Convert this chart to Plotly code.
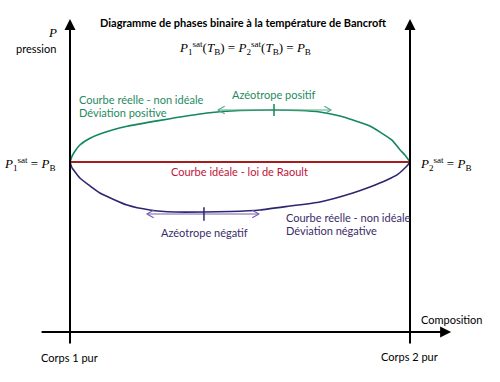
import plotly.graph_objects as go

# Composition (mole fraction of component 2) and reduced pressure P/P_B
comp_pos = [0.0, 0.006, 0.015, 0.029, 0.059, 0.088, 0.168, 0.265, 0.403, 0.500, 0.600,
            0.676, 0.735, 0.794, 0.832, 0.882, 0.912, 0.947, 0.971, 0.985, 1.0]
p_pos = [1.0, 1.035, 1.065, 1.100, 1.140, 1.165, 1.210, 1.245, 1.288, 1.303, 1.306,
         1.303, 1.294, 1.271, 1.247, 1.212, 1.176, 1.129, 1.071, 1.041, 1.0]

comp_neg = [0.0, 0.006, 0.015, 0.029, 0.059, 0.088, 0.168, 0.235, 0.309, 0.394, 0.471,
            0.559, 0.647, 0.735, 0.832, 0.882, 0.932, 0.965, 0.979, 0.991, 1.0]
p_neg = [1.0, 0.965, 0.941, 0.906, 0.859, 0.818, 0.747, 0.718, 0.706, 0.706, 0.709,
         0.718, 0.741, 0.765, 0.818, 0.853, 0.894, 0.929, 0.953, 0.976, 1.0]

comp_ideal = [0.0, 1.0]
p_ideal = [1.0, 1.0]

# Azeotrope points and the span of their double arrows
azeo_pos_x, azeo_pos_p = 0.600, 1.306
azeo_pos_span = [0.435, 0.768]
azeo_neg_x, azeo_neg_p = 0.394, 0.694
azeo_neg_span = [0.226, 0.556]

# Axis extents
x_axis_span = [-0.088, 1.121]
p_axis_span = [-0.076, 1.841]

GREEN = "#13885b"
GREEN_TXT = "#1f8a60"
GREEN_ARW = "#5aa888"
RED = "#a51c1c"
RED_TXT = "#c0143c"
NAVY = "#2c2670"
PURPLE_TXT = "#3b2c6a"
PURPLE_ARW = "#7a5cb0"
FONT = "Lato"
MATH = "Liberation Serif"

fig = go.Figure()

fig.add_trace(go.Scatter(x=comp_pos, y=p_pos, mode="lines",
                         line=dict(color=GREEN, width=1.6, shape="spline", smoothing=0.5),
                         hoverinfo="skip"))
fig.add_trace(go.Scatter(x=comp_neg, y=p_neg, mode="lines",
                         line=dict(color=NAVY, width=1.6, shape="spline", smoothing=0.5),
                         hoverinfo="skip"))
fig.add_trace(go.Scatter(x=comp_ideal, y=p_ideal, mode="lines",
                         line=dict(color=RED, width=1.8), hoverinfo="skip"))


def double_arrow(span, yv, color, head_dx=0.02, head_dp=0.022):
    """Horizontal double arrow with open chevron heads."""
    x0, x1 = span
    xs = [x0 + head_dx, x0, x0 + head_dx, None, x0, x1, None, x1 - head_dx, x1, x1 - head_dx]
    ys = [yv + head_dp, yv, yv - head_dp, None, yv, yv, None, yv + head_dp, yv, yv - head_dp]
    fig.add_trace(go.Scatter(x=xs, y=ys, mode="lines", line=dict(color=color, width=1.2),
                             hoverinfo="skip"))


def tick(xv, yv, color, half=0.035):
    fig.add_trace(go.Scatter(x=[xv, xv], y=[yv - half, yv + half], mode="lines",
                             line=dict(color=color, width=1.5), hoverinfo="skip"))


double_arrow(azeo_pos_span, azeo_pos_p, GREEN_ARW)
tick(azeo_pos_x, azeo_pos_p, GREEN)
double_arrow(azeo_neg_span, azeo_neg_p, PURPLE_ARW)
tick(azeo_neg_x, azeo_neg_p, NAVY, half=0.04)

# Axes drawn as arrows: pure component verticals and composition axis
for xv in comp_ideal:
    fig.add_annotation(x=xv, y=p_axis_span[1], ax=xv, ay=p_axis_span[0],
                       xref="x", yref="y", axref="x", ayref="y", text="",
                       showarrow=True, arrowhead=2, arrowsize=1.1, arrowwidth=2,
                       arrowcolor="black")
fig.add_annotation(x=x_axis_span[1], y=0, ax=x_axis_span[0], ay=0,
                   xref="x", yref="y", axref="x", ayref="y", text="",
                   showarrow=True, arrowhead=2, arrowsize=1.1, arrowwidth=2,
                   arrowcolor="black")

W, H = 500, 382


def lab(px, py, text, color="black", size=11, anchor="center", family=FONT):
    fig.add_annotation(x=px / W, y=1 - py / H, xref="paper", yref="paper",
                       text=text, showarrow=False, xanchor=anchor, yanchor="middle",
                       font=dict(family=family, size=size, color=color))


lab(243, 23, "<b>Diagramme de phases binaire à la température de Bancroft</b>", size=11)
lab(245, 48, "<i>P</i><sub>1</sub><sup>sat</sup>(<i>T</i><sub>B</sub>) = "
             "<i>P</i><sub>2</sub><sup>sat</sup>(<i>T</i><sub>B</sub>) = <i>P</i><sub>B</sub>",
    size=13, family=MATH)
lab(59, 33, "<i>P</i>", size=13, family=MATH, anchor="right")
lab(58, 48, "pression", size=11, anchor="right")

lab(77, 100, "Courbe réelle - non idéale", color=GREEN_TXT, anchor="left")
lab(77, 113, "Déviation positive", color=GREEN_TXT, anchor="left")
lab(274, 95, "Azéotrope positif", color=GREEN_TXT)

lab(57, 164, "<i>P</i><sub>1</sub><sup>sat</sup> = <i>P</i><sub>B</sub>", size=13,
    family=MATH, anchor="right")
lab(418, 164, "<i>P</i><sub>2</sub><sup>sat</sup> = <i>P</i><sub>B</sub>", size=13,
    family=MATH, anchor="left")

lab(239, 172, "Courbe idéale - loi de Raoult", color=RED_TXT)

lab(284, 217, "Courbe réelle - non idéale", color=PURPLE_TXT, anchor="left")
lab(284, 230, "Déviation négative", color=PURPLE_TXT, anchor="left")
lab(204, 233, "Azéotrope négatif", color=PURPLE_TXT)

lab(419, 319, "Composition", anchor="left")
lab(69, 357, "Corps 1 pur")
lab(409, 356, "Corps 2 pur")

fig.update_layout(
    width=W, height=H, margin=dict(l=0, r=0, t=0, b=0),
    paper_bgcolor="white", plot_bgcolor="white", showlegend=False,
    xaxis=dict(range=[-70 / 340, 430 / 340], visible=False, fixedrange=True),
    yaxis=dict(range=[-50 / 170, 332 / 170], visible=False, fixedrange=True),
)

fig.write_html("out.html")
